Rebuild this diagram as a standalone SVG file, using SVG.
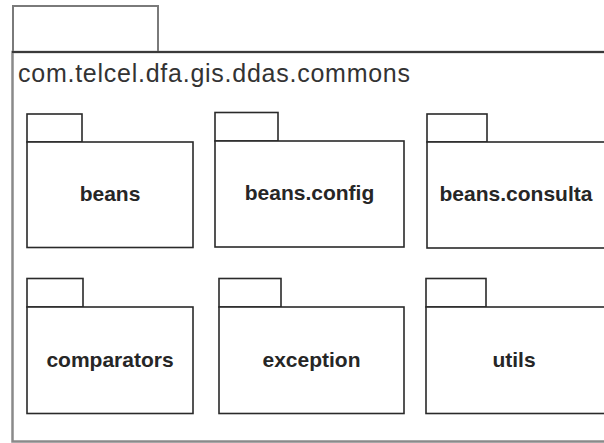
<svg xmlns="http://www.w3.org/2000/svg" width="604" height="443" viewBox="0 0 604 443">
<style>
.pk{fill:#fff;stroke:#2a2a2a;stroke-width:1.6}
.lbl{font-family:"Liberation Sans",Arial,sans-serif;font-size:21px;font-weight:bold;fill:#262626;text-anchor:middle}
.ttl{font-family:"Liberation Sans",Arial,sans-serif;font-size:25px;fill:#333}
</style>
<rect width="604" height="443" fill="#fff"/>
<g id="commons">
<rect x="13" y="6" width="145" height="46" fill="#fff" stroke="#7a7a7a" stroke-width="2"/>
<rect x="12.5" y="52" width="600" height="389.5" fill="#fff" stroke="#8a8a8a" stroke-width="2.5"/>
<line x1="12" y1="52" x2="604" y2="52" stroke="#3a3a3a" stroke-width="2"/>
<text class="ttl" x="18" y="82" textLength="392" lengthAdjust="spacing">com.telcel.dfa.gis.ddas.commons</text>
</g>
<g id="beans">
<rect class="pk" x="27" y="114" width="55" height="28"/>
<rect class="pk" x="27" y="142" width="166" height="105.5"/>
<text class="lbl" x="110" y="201">beans</text>
</g>
<g id="beans.config">
<rect class="pk" x="215" y="112.5" width="63" height="28.5"/>
<rect class="pk" x="215" y="141" width="189" height="106"/>
<text class="lbl" x="309.5" y="200">beans.config</text>
</g>
<g id="beans.consulta">
<rect class="pk" x="427" y="114" width="60" height="28"/>
<rect class="pk" x="427" y="142" width="180" height="106"/>
<text class="lbl" x="516" y="201">beans.consulta</text>
</g>
<g id="comparators">
<rect class="pk" x="27" y="278.5" width="56" height="28.5"/>
<rect class="pk" x="27" y="307" width="166" height="106.5"/>
<text class="lbl" x="110" y="367">comparators</text>
</g>
<g id="exception">
<rect class="pk" x="219" y="278.5" width="62" height="28.5"/>
<rect class="pk" x="219" y="307" width="185" height="106.5"/>
<text class="lbl" x="311.5" y="367">exception</text>
</g>
<g id="utils">
<rect class="pk" x="426" y="278.5" width="60" height="28.5"/>
<rect class="pk" x="426" y="307" width="182" height="106.5"/>
<text class="lbl" x="514" y="367">utils</text>
</g>
<g id="connectors"/>
</svg>
